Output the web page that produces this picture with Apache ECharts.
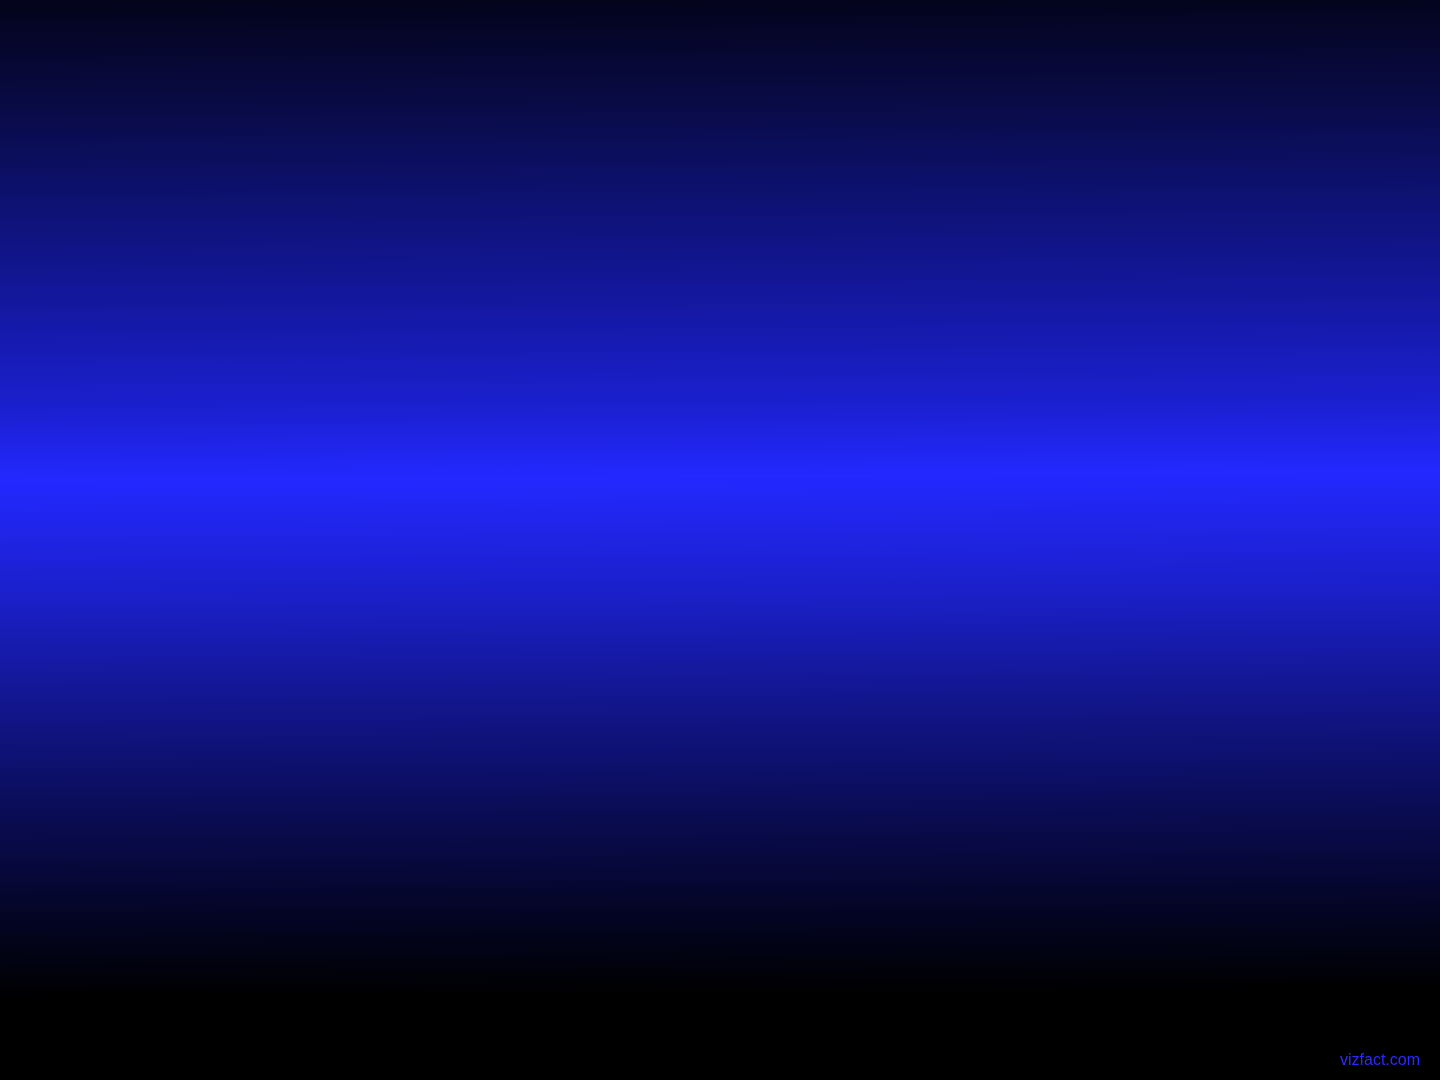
<!DOCTYPE html>
<html>
<head>
<meta charset="utf-8">
<title>vizfact</title>
<script src="https://cdn.jsdelivr.net/npm/echarts@6/dist/echarts.min.js"></script>
<style>
  html, body { margin: 0; padding: 0; background: #000; }
  #main { width: 1440px; height: 1080px; }
</style>
</head>
<body>
<div id="main"></div>
<script>
// the reference holds no marks, only the backdrop and the site credit
var categories = [];
var values = [];
var credit = 'vizfact.com';

var myChart = echarts.init(document.getElementById('main'));

var option = {
    // black -> bright blue band -> black, band tilts a little up to the right
    backgroundColor: new echarts.graphic.LinearGradient(0, 0, 0.005, 1, [
        { offset: 0, color: '#03031a' },
        { offset: 0.1, color: '#090b46' },
        { offset: 0.2, color: '#0e1277' },
        { offset: 0.3, color: '#1519a8' },
        { offset: 0.38, color: '#1b20d0' },
        { offset: 0.445, color: '#2329ff' },
        { offset: 0.55, color: '#1b20cb' },
        { offset: 0.65, color: '#12168e' },
        { offset: 0.755, color: '#0a0c54' },
        { offset: 0.86, color: '#03041f' },
        { offset: 0.925, color: '#000000' },
        { offset: 1, color: '#000000' }
    ]),
    xAxis: { type: 'category', data: categories, show: false },
    yAxis: { type: 'value', show: false },
    series: [{ type: 'bar', data: values }],
    graphic: [{
        type: 'text',
        right: 20,
        bottom: 11,
        style: {
            text: credit,
            fill: '#2a2cff',
            font: '16px "Liberation Sans", Arial, sans-serif'
        }
    }]
};

myChart.setOption(option);
</script>
</body>
</html>
